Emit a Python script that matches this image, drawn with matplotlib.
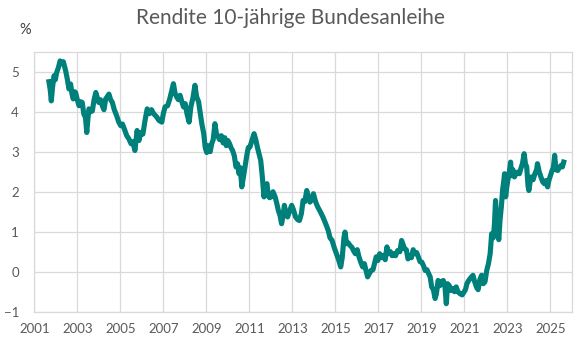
import matplotlib
matplotlib.use("Agg")
import matplotlib.pyplot as plt

# yields (fractional year, percent)
years = [
    2001.68, 2001.74, 2001.79, 2001.85, 2001.92, 2001.98, 2002.04, 2002.12, 2002.20, 2002.28,
    2002.35, 2002.41, 2002.46, 2002.54, 2002.61, 2002.69, 2002.75, 2002.81, 2002.87, 2002.92,
    2003.00, 2003.08, 2003.15, 2003.23, 2003.30, 2003.38, 2003.44, 2003.49, 2003.54, 2003.62,
    2003.70, 2003.78, 2003.86, 2003.93, 2004.00, 2004.08, 2004.16, 2004.24, 2004.32, 2004.40,
    2004.47, 2004.55, 2004.63, 2004.72, 2004.83, 2004.92, 2005.02, 2005.10, 2005.20, 2005.30,
    2005.40, 2005.50, 2005.58, 2005.68, 2005.78, 2005.87, 2005.95, 2006.05, 2006.15, 2006.25,
    2006.35, 2006.45, 2006.55, 2006.69, 2006.80, 2006.93, 2007.00, 2007.08, 2007.20, 2007.30,
    2007.40, 2007.47, 2007.55, 2007.62, 2007.70, 2007.78, 2007.86, 2007.94, 2008.02, 2008.10,
    2008.20, 2008.28, 2008.38, 2008.47, 2008.55, 2008.64, 2008.72, 2008.79, 2008.88, 2008.95,
    2009.02, 2009.10, 2009.18, 2009.25, 2009.32, 2009.40, 2009.47, 2009.55, 2009.62, 2009.70,
    2009.78, 2009.86, 2009.93, 2010.00, 2010.08, 2010.15, 2010.22, 2010.30, 2010.38, 2010.45,
    2010.52, 2010.58, 2010.65, 2010.72, 2010.80, 2010.88, 2010.95, 2011.03, 2011.12, 2011.22,
    2011.30, 2011.38, 2011.45, 2011.53, 2011.60, 2011.68, 2011.75, 2011.82, 2011.88, 2011.94,
    2012.02, 2012.10, 2012.20, 2012.28, 2012.35, 2012.43, 2012.50, 2012.57, 2012.63, 2012.70,
    2012.78, 2012.86, 2012.97, 2013.05, 2013.15, 2013.25, 2013.33, 2013.42, 2013.50, 2013.58,
    2013.67, 2013.75, 2013.82, 2013.90, 2013.98, 2014.08, 2014.18, 2014.30, 2014.42, 2014.55,
    2014.67, 2014.75, 2014.85, 2014.95, 2015.05, 2015.15, 2015.25, 2015.32, 2015.40, 2015.45,
    2015.52, 2015.60, 2015.68, 2015.78, 2015.85, 2015.93, 2016.02, 2016.10, 2016.18, 2016.27,
    2016.35, 2016.42, 2016.50, 2016.58, 2016.66, 2016.75, 2016.82, 2016.90, 2016.98, 2017.06,
    2017.15, 2017.25, 2017.32, 2017.40, 2017.48, 2017.56, 2017.64, 2017.72, 2017.80, 2017.90,
    2018.00, 2018.08, 2018.15, 2018.22, 2018.30, 2018.38, 2018.46, 2018.54, 2018.62, 2018.70,
    2018.78, 2018.86, 2018.94, 2019.02, 2019.10, 2019.18, 2019.26, 2019.34, 2019.41, 2019.48,
    2019.56, 2019.64, 2019.70, 2019.78, 2019.86, 2019.94, 2020.02, 2020.10, 2020.16, 2020.22,
    2020.30, 2020.38, 2020.46, 2020.54, 2020.62, 2020.70, 2020.80, 2020.90, 2020.98, 2021.05,
    2021.12, 2021.20, 2021.30, 2021.40, 2021.48, 2021.56, 2021.64, 2021.72, 2021.80, 2021.88,
    2021.96, 2022.04, 2022.12, 2022.20, 2022.27, 2022.35, 2022.40, 2022.45, 2022.50, 2022.56,
    2022.60, 2022.66, 2022.72, 2022.78, 2022.84, 2022.87, 2022.92, 2022.97, 2023.02, 2023.08,
    2023.15, 2023.20, 2023.26, 2023.33, 2023.40, 2023.48, 2023.56, 2023.64, 2023.70, 2023.78,
    2023.84, 2023.90, 2023.96, 2024.00, 2024.06, 2024.12, 2024.20, 2024.28, 2024.36, 2024.40,
    2024.48, 2024.56, 2024.64, 2024.72, 2024.80, 2024.87, 2024.93, 2025.00, 2025.08, 2025.14,
    2025.20, 2025.26, 2025.34, 2025.42, 2025.50, 2025.56, 2025.62,
]
rendite = [
    4.75, 4.55, 4.27, 4.62, 4.90, 4.80, 4.98, 5.10, 5.27, 5.20,
    5.25, 5.12, 5.02, 4.80, 4.57, 4.69, 4.45, 4.32, 4.50, 4.48,
    4.30, 4.15, 4.25, 4.23, 3.95, 3.85, 3.48, 3.80, 4.07, 4.00,
    4.02, 4.30, 4.48, 4.35, 4.23, 4.30, 4.15, 4.05, 4.32, 4.38,
    4.44, 4.30, 4.23, 4.05, 3.90, 3.75, 3.65, 3.69, 3.55, 3.40,
    3.32, 3.20, 3.25, 3.03, 3.53, 3.28, 3.48, 3.44, 3.78, 4.07,
    3.95, 4.05, 3.95, 3.87, 3.78, 3.74, 3.95, 4.12, 4.15, 4.32,
    4.55, 4.70, 4.45, 4.37, 4.30, 4.41, 4.25, 4.12, 4.20, 3.95,
    3.74, 4.12, 4.35, 4.66, 4.37, 4.25, 3.95, 3.70, 3.45, 3.10,
    2.98, 3.15, 3.00, 3.20, 3.30, 3.70, 3.45, 3.37, 3.30, 3.40,
    3.22, 3.35, 3.15, 3.28, 3.20, 3.10, 3.03, 2.90, 2.62, 2.70,
    2.45, 2.60, 2.12, 2.35, 2.62, 2.90, 3.10, 3.12, 3.28, 3.45,
    3.30, 3.10, 2.95, 2.78, 2.40, 1.87, 2.10, 2.20, 1.90, 1.85,
    1.87, 2.00, 1.87, 1.70, 1.53, 1.40, 1.20, 1.40, 1.66, 1.45,
    1.37, 1.50, 1.66, 1.55, 1.37, 1.30, 1.28, 1.45, 1.78, 1.75,
    2.03, 1.85, 1.74, 1.80, 1.95, 1.75, 1.62, 1.50, 1.37, 1.20,
    1.03, 0.85, 0.78, 0.60, 0.45, 0.30, 0.12, 0.35, 0.85, 0.99,
    0.70, 0.72, 0.66, 0.60, 0.52, 0.45, 0.55, 0.37, 0.24, 0.12,
    0.20, 0.05, -0.13, -0.05, 0.03, 0.05, 0.20, 0.37, 0.28, 0.45,
    0.35, 0.41, 0.30, 0.62, 0.45, 0.50, 0.40, 0.45, 0.40, 0.53,
    0.50, 0.78, 0.68, 0.57, 0.55, 0.32, 0.40, 0.35, 0.55, 0.45,
    0.48, 0.37, 0.25, 0.24, 0.15, 0.03, 0.05, -0.05, -0.13, -0.38,
    -0.45, -0.67, -0.55, -0.22, -0.35, -0.25, -0.22, -0.38, -0.80, -0.30,
    -0.35, -0.47, -0.42, -0.50, -0.38, -0.50, -0.55, -0.58, -0.51, -0.45,
    -0.30, -0.22, -0.15, -0.09, -0.25, -0.38, -0.45, -0.20, -0.09, -0.30,
    -0.25, 0.03, 0.20, 0.45, 0.95, 0.85, 1.20, 1.78, 1.30, 1.05,
    0.80, 1.30, 1.62, 2.05, 2.30, 2.45, 1.87, 2.10, 2.28, 2.45,
    2.74, 2.40, 2.55, 2.37, 2.45, 2.49, 2.45, 2.60, 2.70, 2.95,
    2.70, 2.62, 2.15, 2.03, 2.25, 2.37, 2.30, 2.45, 2.55, 2.70,
    2.50, 2.37, 2.25, 2.20, 2.28, 2.12, 2.28, 2.40, 2.53, 2.60,
    2.91, 2.55, 2.53, 2.60, 2.66, 2.62, 2.74,
]
x_ticks = list(range(2001, 2026, 2))
y_ticks = [-1, 0, 1, 2, 3, 4, 5]

plt.rcParams['font.family'] = ['Lato', 'DejaVu Sans']
grey_text = '#595959'
grid_col = '#d9d9d9'

fig = plt.figure(figsize=(5.78, 3.39), dpi=100)
ax = fig.add_axes([34.3 / 578, 1 - 311.7 / 339, (572.3 - 34.3) / 578, (311.7 - 51.7) / 339])

ax.plot(years, rendite, color='#00807a', linewidth=3.7, solid_joinstyle='round')

ax.set_xlim(2001, 2026.02)
ax.set_ylim(-1, 5.5)
ax.set_xticks(x_ticks)
ax.set_xticklabels([str(t) for t in x_ticks])
ax.set_yticks(y_ticks)
ax.grid(True, color=grid_col, linewidth=0.9)
ax.set_axisbelow(True)
for s in ax.spines.values():
    s.set_color(grid_col)
    s.set_linewidth(0.9)
ax.tick_params(length=0, labelsize=9.5, colors=grey_text)
ax.tick_params(axis='y', pad=11)
ax.tick_params(axis='x', pad=8)

fig.text(0.502, 1 - 18 / 339, 'Rendite 10-jährige Bundesanleihe', ha='center', va='center',
         fontsize=15, color=grey_text)
fig.text(25 / 578, 1 - 30 / 339, '%', ha='center', va='center', fontsize=10.5, color='#404040')

fig.savefig('out.png', dpi=100)
